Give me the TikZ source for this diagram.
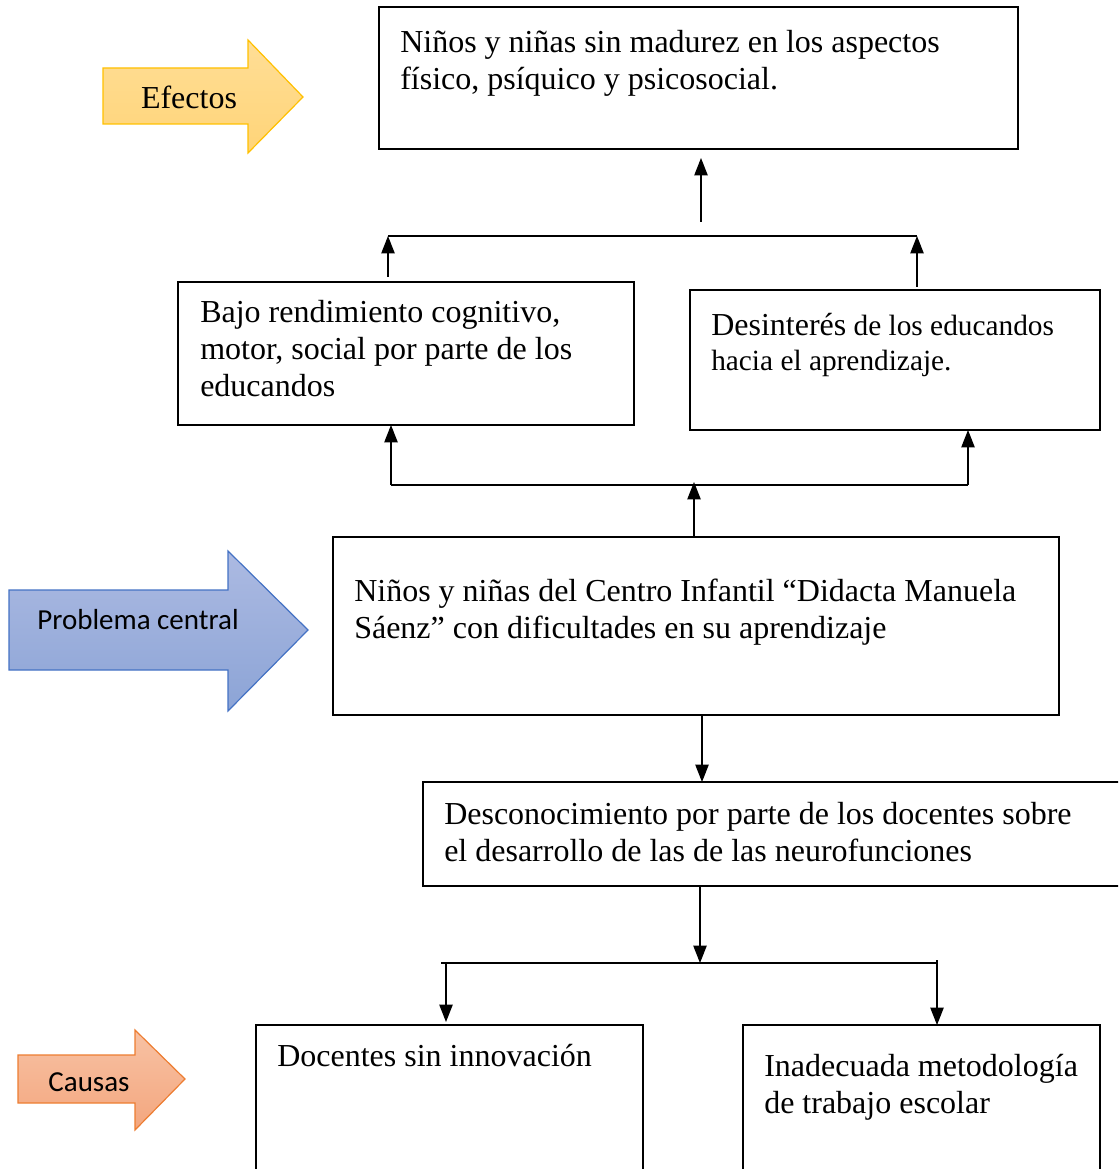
\documentclass[tikz,border=0pt]{standalone}
\usepackage{fontspec}
\setmainfont{Liberation Serif}
\newfontfamily\calibrifont{Carlito}
\usetikzlibrary{arrows.meta}
\tikzset{
  box/.style={draw=black, line width=1.5pt, rectangle, inner sep=0pt, outer sep=0pt},
  boxtext/.style={anchor=base west, inner sep=0pt, align=left, font=\fontsize{24}{27.75}\selectfont, execute at begin node={\spaceskip=6pt\relax}},
  smalltext/.style={anchor=base west, inner sep=0pt, align=left, font=\fontsize{22}{26.25}\selectfont, execute at begin node={\spaceskip=5.5pt\relax}},
  arr/.style={line width=0.9pt, -{Triangle[length=13pt,width=10pt]}},
  conn/.style={line width=0.9pt},
  efarrow/.style={draw={rgb,255:red,255;green,192;blue,0}, line width=0.9pt, top color={rgb,255:red,255;green,222;blue,150}, bottom color={rgb,255:red,255;green,212;blue,120}},
  pcarrow/.style={draw={rgb,255:red,68;green,114;blue,196}, line width=0.9pt, top color={rgb,255:red,172;green,186;blue,226}, bottom color={rgb,255:red,140;green,164;blue,214}},
  caarrow/.style={draw={rgb,255:red,237;green,125;blue,49}, line width=0.9pt, top color={rgb,255:red,248;green,194;blue,164}, bottom color={rgb,255:red,243;green,166;blue,126}},
}
\begin{document}
\begin{tikzpicture}[x=0.75pt, y=-0.75pt]
\useasboundingbox (0,0) rectangle (1118,1169);
\clip (0,0) rectangle (1118,1169);

% side arrows
\path[efarrow] (103,68) -- (248,68) -- (248,40) -- (303,97) -- (248,153) -- (248,124) -- (103,124) -- cycle;
\node[font=\fontsize{24}{28}\selectfont] (efectos) at (189,97) {Efectos};
\path[pcarrow] (9,590) -- (228,590) -- (228,551) -- (308,630) -- (228,711) -- (228,670) -- (9,670) -- cycle;
\node[font=\calibrifont\fontsize{21.75}{26}\selectfont] (problema) at (138,620) {Problema central};
\path[caarrow] (18,1055) -- (135,1055) -- (135,1030) -- (185,1079) -- (135,1130) -- (135,1103) -- (18,1103) -- cycle;
\node[font=\calibrifont\fontsize{21.75}{26}\selectfont] (causas) at (89,1082) {Causas};

% boxes
\node[box, minimum width=479.25pt, minimum height=106.5pt] (top) at (698.5,78) {};
\node[boxtext, text width=460pt] (toptext) at (400,53) {Niños y niñas sin madurez en los aspectos\\ físico, psíquico y psicosocial.};

\node[box, minimum width=342pt, minimum height=107.25pt] (bajo) at (406,353.5) {};
\node[boxtext, text width=320pt] (bajotext) at (200,322) {Bajo rendimiento cognitivo,\\ motor, social por parte de los\\ educandos};

\node[box, minimum width=307.5pt, minimum height=105pt] (desint) at (895,360) {};
\node[smalltext, text width=290pt] (desinttext) at (711,335) {{\fontsize{24}{26.25}\selectfont Desinterés} de los educandos\\ hacia el aprendizaje.};

\node[box, minimum width=544.5pt, minimum height=133.5pt] (central) at (696,626) {};
\node[boxtext, text width=530pt] (centraltext) at (354,601) {Niños y niñas del Centro Infantil “Didacta Manuela\\ Sáenz” con dificultades en su aprendizaje};

\node[box, minimum width=530.25pt, minimum height=78pt] (desc) at (776.5,834) {};
\node[boxtext, text width=510pt] (desctext) at (444,824) {Desconocimiento por parte de los docentes sobre\\ el desarrollo de las de las neurofunciones};

\node[box, minimum width=290.25pt, minimum height=123.75pt] (doc) at (449.5,1107.5) {};
\node[boxtext, text width=270pt] (doctext) at (277,1066) {Docentes sin innovación};

\node[box, minimum width=267.75pt, minimum height=123.75pt] (inad) at (921.5,1107.5) {};
\node[boxtext, text width=250pt] (inadtext) at (764,1076) {Inadecuada metodología\\ de trabajo escolar};

% connectors: effects
\coordinate (eUp) at (701,222);
\draw[arr, shorten >=6.75pt] (eUp) -- (eUp |- top.south);
\coordinate (hL) at (388,236);
\coordinate (hR) at (917,236);
\draw[conn] (hL) -- (hR);
\draw[arr, shorten <=3.75pt] (bajo.north -| hL) -- (hL);
\draw[arr, shorten <=2.25pt] (desint.north -| hR) -- (hR);

% connectors: central to effects
\coordinate (mL) at (391,485);
\coordinate (mR) at (968,485);
\coordinate (mC) at (694,485);
\draw[conn] (mL) -- (mR);
\draw[arr] (mL) -- (mL |- bajo.south);
\draw[arr] (mR) -- (mR |- desint.south);
\draw[arr, shorten >=-2.25pt] (mC |- central.north) -- (mC);

% connectors: causes
\coordinate (dC) at (702,715);
\draw[arr] (central.south -| dC) -- (desc.north -| dC);
\coordinate (bC) at (700,963);
\coordinate (bL) at (446,963);
\coordinate (bR) at (937,963);
\draw[arr] (desc.south -| bC) -- (bC);
\draw[conn] ([xshift=-3.75pt]bL) -- (bR);
\draw[arr, shorten >=2.25pt] (bL) -- (bL |- doc.north);
\draw[arr] ([yshift=2.25pt]bR) -- (bR |- inad.north);
\end{tikzpicture}
\end{document}
